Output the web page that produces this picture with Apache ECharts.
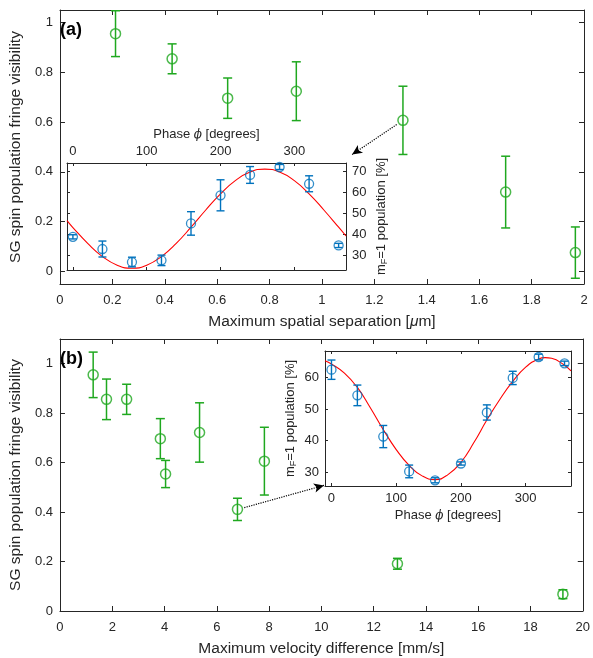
<!DOCTYPE html>
<html>
<head>
<meta charset="utf-8">
<script src="https://cdn.jsdelivr.net/npm/echarts@6/dist/echarts.min.js"></script>
<style>html,body{margin:0;padding:0;background:#fff}#c{width:593px;height:658px}</style>
</head>
<body>
<div id="c"></div>
<script>
// ---- Panel (a): visibility vs maximum spatial separation ----
const aX   = [0.212, 0.428, 0.640, 0.902, 1.309, 1.701, 1.967];
const aY   = [0.955, 0.854, 0.696, 0.724, 0.607, 0.319, 0.076];
const aErr = [0.092, 0.060, 0.081, 0.118, 0.137, 0.144, 0.103];
const aArrow = [[1.285, 0.590], [1.115, 0.470]];

// ---- Panel (b): visibility vs maximum velocity difference ----
const bX   = [1.27, 1.78, 2.55, 3.84, 4.04, 5.34, 6.79, 7.82, 12.91, 19.24];
const bY   = [0.955, 0.856, 0.856, 0.697, 0.554, 0.722, 0.411, 0.606, 0.191, 0.068];
const bErr = [0.092, 0.082, 0.061, 0.081, 0.055, 0.120, 0.045, 0.137, 0.022, 0.018];
const bArrow = [[7.05, 0.418], [10.10, 0.508]];

// ---- Insets: phase scans ----
const phases = [0, 40, 80, 120, 160, 200, 240, 280, 320, 360];
const insetAPop = [38.8, 33.0, 26.8, 27.6, 45.2, 58.6, 68.3, 72.1, 64.1, 34.7];
const insetAErr = [1.0, 3.8, 2.3, 2.5, 5.6, 7.4, 4.0, 1.2, 3.8, 1.0];
const insetBPop = [62.4, 54.3, 41.3, 30.3, 27.5, 32.8, 48.9, 59.8, 66.4, 64.4];
const insetBErr = [3.05, 3.25, 3.5, 2.0, 0.8, 0.5, 2.4, 2.1, 0.9, 0.7];

// fitted curves
const fitAPhase = [-8, 0, 20, 40, 60, 80, 100, 120, 140, 160, 180, 200, 220, 240, 260, 280, 300, 320, 340, 360, 370];
const fitAPop   = [46.5, 43.2, 35.7, 29.4, 25.3, 23.8, 25.3, 29.4, 35.7, 43.4, 51.6, 59.3, 65.6, 69.7, 71.1, 69.7, 65.6, 59.3, 51.6, 43.4, 39.2];
const fitBPhase = [-10, 0, 20, 40, 60, 80, 100, 120, 140, 160, 180, 200, 220, 240, 260, 280, 300, 320, 330, 340, 360, 370];
const fitBPop   = [65.2, 64.2, 61.3, 56.8, 50.4, 43.5, 37.2, 32.2, 28.9, 27.7, 29.3, 33.2, 39.4, 46.5, 53.0, 58.7, 63.2, 65.8, 66.2, 66.0, 63.8, 62.0];

// tick values
const aXTicks = [0, 0.2, 0.4, 0.6, 0.8, 1, 1.2, 1.4, 1.6, 1.8, 2];
const visTicks = [0, 0.2, 0.4, 0.6, 0.8, 1];
const bXTicks = [0, 2, 4, 6, 8, 10, 12, 14, 16, 18, 20];
const phaseTicks = [0, 100, 200, 300];
const popATicks = [30, 40, 50, 60, 70];
const popBTicks = [30, 40, 50, 60];

const FONT = 'Liberation Sans, Arial, Helvetica, sans-serif';
const TXT = '#262626';
const GREEN = '#1fa81f';
const BLUE = '#0072bd';
const RED = '#ff0000';

function zip3(x, y, e) { return x.map((v, i) => [v, y[i], e[i]]); }
function zip2(x, y) { return x.map((v, i) => [v, y[i]]); }

function errRender(color, half, lw) {
  return function (params, api) {
    const x = api.value(0), y = api.value(1), e = api.value(2);
    const t = api.coord([x, y + e]);
    const b = api.coord([x, y - e]);
    const st = { stroke: color, lineWidth: lw, fill: null };
    return {
      type: 'group',
      children: [
        { type: 'line', shape: { x1: t[0], y1: t[1], x2: b[0], y2: b[1] }, style: st },
        { type: 'line', shape: { x1: t[0] - half, y1: t[1], x2: t[0] + half, y2: t[1] }, style: st },
        { type: 'line', shape: { x1: b[0] - half, y1: b[1], x2: b[0] + half, y2: b[1] }, style: st }
      ]
    };
  };
}

const labelStyle = { color: TXT, fontFamily: FONT, fontSize: 13 };
const nameStyle = { color: TXT, fontFamily: FONT, fontSize: 15.5 };

function axis(opts) {
  const o = {
    type: 'value',
    gridIndex: opts.grid,
    position: opts.pos,
    min: opts.min, max: opts.max,
    z: opts.z || 0,
    splitLine: { show: false },
    axisLine: { show: true, onZero: false, lineStyle: { color: TXT, width: 1 } },
    axisTick: { show: true, inside: true, length: opts.tickLen || 5, customValues: opts.ticks, lineStyle: { color: TXT } },
    axisLabel: opts.labels ? Object.assign({ show: true, margin: opts.margin || 8, customValues: opts.ticks }, labelStyle) : { show: false }
  };
  if (opts.name) {
    o.name = opts.name;
    o.nameLocation = 'middle';
    o.nameGap = opts.nameGap;
    o.nameTextStyle = opts.nameStyle;
    if (opts.nameRotate !== undefined) o.nameRotate = opts.nameRotate;
  }
  return o;
}

const chart = echarts.init(document.getElementById('c'), null, { renderer: 'canvas' });

const phaseName = '{t|Phase }{i|ϕ}{t| [degrees]}';
const phaseRich = { t: { fontFamily: FONT, fontSize: 13, color: TXT }, i: { fontFamily: 'DejaVu Serif, serif', fontStyle: 'italic', fontSize: 12, color: TXT } };
const popName = '{t|m}{s|F}{t|=1 population [%]}';
const popRich = { t: { fontFamily: FONT, fontSize: 13, color: TXT }, s: { fontFamily: FONT, fontSize: 9, color: TXT, padding: [7, 0, 0, 0] } };

const option = {
  animation: false,
  backgroundColor: '#fff',
  title: [
    { text: '(a)', left: 55, top: 16, textStyle: { fontFamily: FONT, fontWeight: 'bold', fontSize: 18, color: '#000' } },
    { text: '(b)', left: 55, top: 345, textStyle: { fontFamily: FONT, fontWeight: 'bold', fontSize: 18, color: '#000' } }
  ],
  grid: [
    { left: 56, top: 10, width: 528, height: 274 },
    { left: 67, top: 163, width: 279, height: 107, show: true, backgroundColor: '#fff', borderWidth: 0, z: 5 },
    { left: 56, top: 339, width: 528, height: 275 },
    { left: 325, top: 351, width: 246, height: 135, show: true, backgroundColor: '#fff', borderWidth: 0, z: 5 }
  ],
  xAxis: [
    axis({ grid: 0, pos: 'bottom', min: 0, max: 2, ticks: aXTicks, labels: true, margin: 10,
      name: '{t|Maximum spatial separation [}{i|μ}{t|m]}', nameGap: 30,
      nameStyle: { rich: { t: nameStyle, i: Object.assign({}, nameStyle, { fontStyle: 'italic' }) } } }),
    axis({ grid: 0, pos: 'top', min: 0, max: 2, ticks: aXTicks }),
    axis({ grid: 1, pos: 'top', min: -8, max: 370, ticks: phaseTicks, labels: true, tickLen: 3, margin: 5, z: 10,
      name: phaseName, nameGap: 22, nameStyle: { rich: phaseRich } }),
    axis({ grid: 1, pos: 'bottom', min: -8, max: 370, ticks: phaseTicks, tickLen: 3, z: 10 }),
    axis({ grid: 2, pos: 'bottom', min: 0, max: 20, ticks: bXTicks, labels: true, margin: 10,
      name: 'Maximum velocity difference [mm/s]', nameGap: 30, nameStyle: nameStyle }),
    axis({ grid: 2, pos: 'top', min: 0, max: 20, ticks: bXTicks }),
    axis({ grid: 3, pos: 'bottom', min: -10, max: 370, ticks: phaseTicks, labels: true, tickLen: 3, margin: 6, z: 10,
      name: phaseName, nameGap: 23, nameStyle: { rich: phaseRich } }),
    axis({ grid: 3, pos: 'top', min: -10, max: 370, ticks: phaseTicks, tickLen: 3, z: 10 })
  ],
  yAxis: [
    axis({ grid: 0, pos: 'left', min: -0.05, max: 1.05, ticks: visTicks, labels: true, margin: 7,
      name: 'SG spin population fringe visibility', nameGap: 31, nameStyle: nameStyle }),
    axis({ grid: 0, pos: 'right', min: -0.05, max: 1.05, ticks: visTicks }),
    axis({ grid: 1, pos: 'right', min: 23, max: 74, ticks: popATicks, labels: true, tickLen: 3, margin: 6, z: 10,
      name: popName, nameGap: 27, nameRotate: 90, nameStyle: { rich: popRich } }),
    axis({ grid: 1, pos: 'left', min: 23, max: 74, ticks: popATicks, tickLen: 3, z: 10 }),
    axis({ grid: 2, pos: 'left', min: 0, max: 1.1, ticks: visTicks, labels: true, margin: 7,
      name: 'SG spin population fringe visibility', nameGap: 31, nameStyle: nameStyle }),
    axis({ grid: 2, pos: 'right', min: 0, max: 1.1, ticks: visTicks }),
    axis({ grid: 3, pos: 'left', min: 25.7, max: 68.3, ticks: popBTicks, labels: true, tickLen: 3, margin: 6, z: 10,
      name: popName, nameGap: 27, nameRotate: 90, nameStyle: { rich: popRich } }),
    axis({ grid: 3, pos: 'right', min: 25.7, max: 68.3, ticks: popBTicks, tickLen: 3, z: 10 })
  ],
  series: [
    // panel (a)
    { type: 'custom', xAxisIndex: 0, yAxisIndex: 0, renderItem: errRender(GREEN, 4.5, 1.5), data: zip3(aX, aY, aErr), z: 3, silent: true },
    { type: 'scatter', xAxisIndex: 0, yAxisIndex: 0, data: zip2(aX, aY), symbol: 'circle', symbolSize: 10, z: 4,
      itemStyle: { color: 'rgba(0,0,0,0)', borderColor: GREEN, borderWidth: 1.5 }, silent: true,
      markLine: { silent: true, symbol: ['none', 'arrow'], symbolSize: [7, 10], label: { show: false },
        lineStyle: { type: 'dotted', color: '#000', width: 1.2 },
        data: [[{ coord: aArrow[0] }, { coord: aArrow[1] }]] } },
    // inset (a)
    { type: 'line', xAxisIndex: 2, yAxisIndex: 2, data: zip2(fitAPhase, fitAPop), smooth: true, showSymbol: false, symbol: 'none',
      lineStyle: { color: RED, width: 1.1 }, z: 11, silent: true },
    { type: 'custom', xAxisIndex: 2, yAxisIndex: 2, renderItem: errRender(BLUE, 4, 1.4), data: zip3(phases, insetAPop, insetAErr), z: 12, silent: true },
    { type: 'scatter', xAxisIndex: 2, yAxisIndex: 2, data: zip2(phases, insetAPop), symbol: 'circle', symbolSize: 9, z: 13,
      itemStyle: { color: 'rgba(0,0,0,0)', borderColor: BLUE, borderWidth: 1.3 }, silent: true },
    // panel (b)
    { type: 'custom', xAxisIndex: 4, yAxisIndex: 4, renderItem: errRender(GREEN, 4.5, 1.5), data: zip3(bX, bY, bErr), z: 3, silent: true },
    { type: 'scatter', xAxisIndex: 4, yAxisIndex: 4, data: zip2(bX, bY), symbol: 'circle', symbolSize: 10, z: 4,
      itemStyle: { color: 'rgba(0,0,0,0)', borderColor: GREEN, borderWidth: 1.5 }, silent: true,
      markLine: { silent: true, symbol: ['none', 'arrow'], symbolSize: [7, 10], label: { show: false },
        lineStyle: { type: 'dotted', color: '#000', width: 1.2 },
        data: [[{ coord: bArrow[0] }, { coord: bArrow[1] }]] } },
    // inset (b)
    { type: 'line', xAxisIndex: 6, yAxisIndex: 6, data: zip2(fitBPhase, fitBPop), smooth: true, showSymbol: false, symbol: 'none',
      lineStyle: { color: RED, width: 1.1 }, z: 11, silent: true },
    { type: 'custom', xAxisIndex: 6, yAxisIndex: 6, renderItem: errRender(BLUE, 4, 1.4), data: zip3(phases, insetBPop, insetBErr), z: 12, silent: true },
    { type: 'scatter', xAxisIndex: 6, yAxisIndex: 6, data: zip2(phases, insetBPop), symbol: 'circle', symbolSize: 9, z: 13,
      itemStyle: { color: 'rgba(0,0,0,0)', borderColor: BLUE, borderWidth: 1.3 }, silent: true }
  ]
};
chart.setOption(option);
</script>
</body>
</html>
